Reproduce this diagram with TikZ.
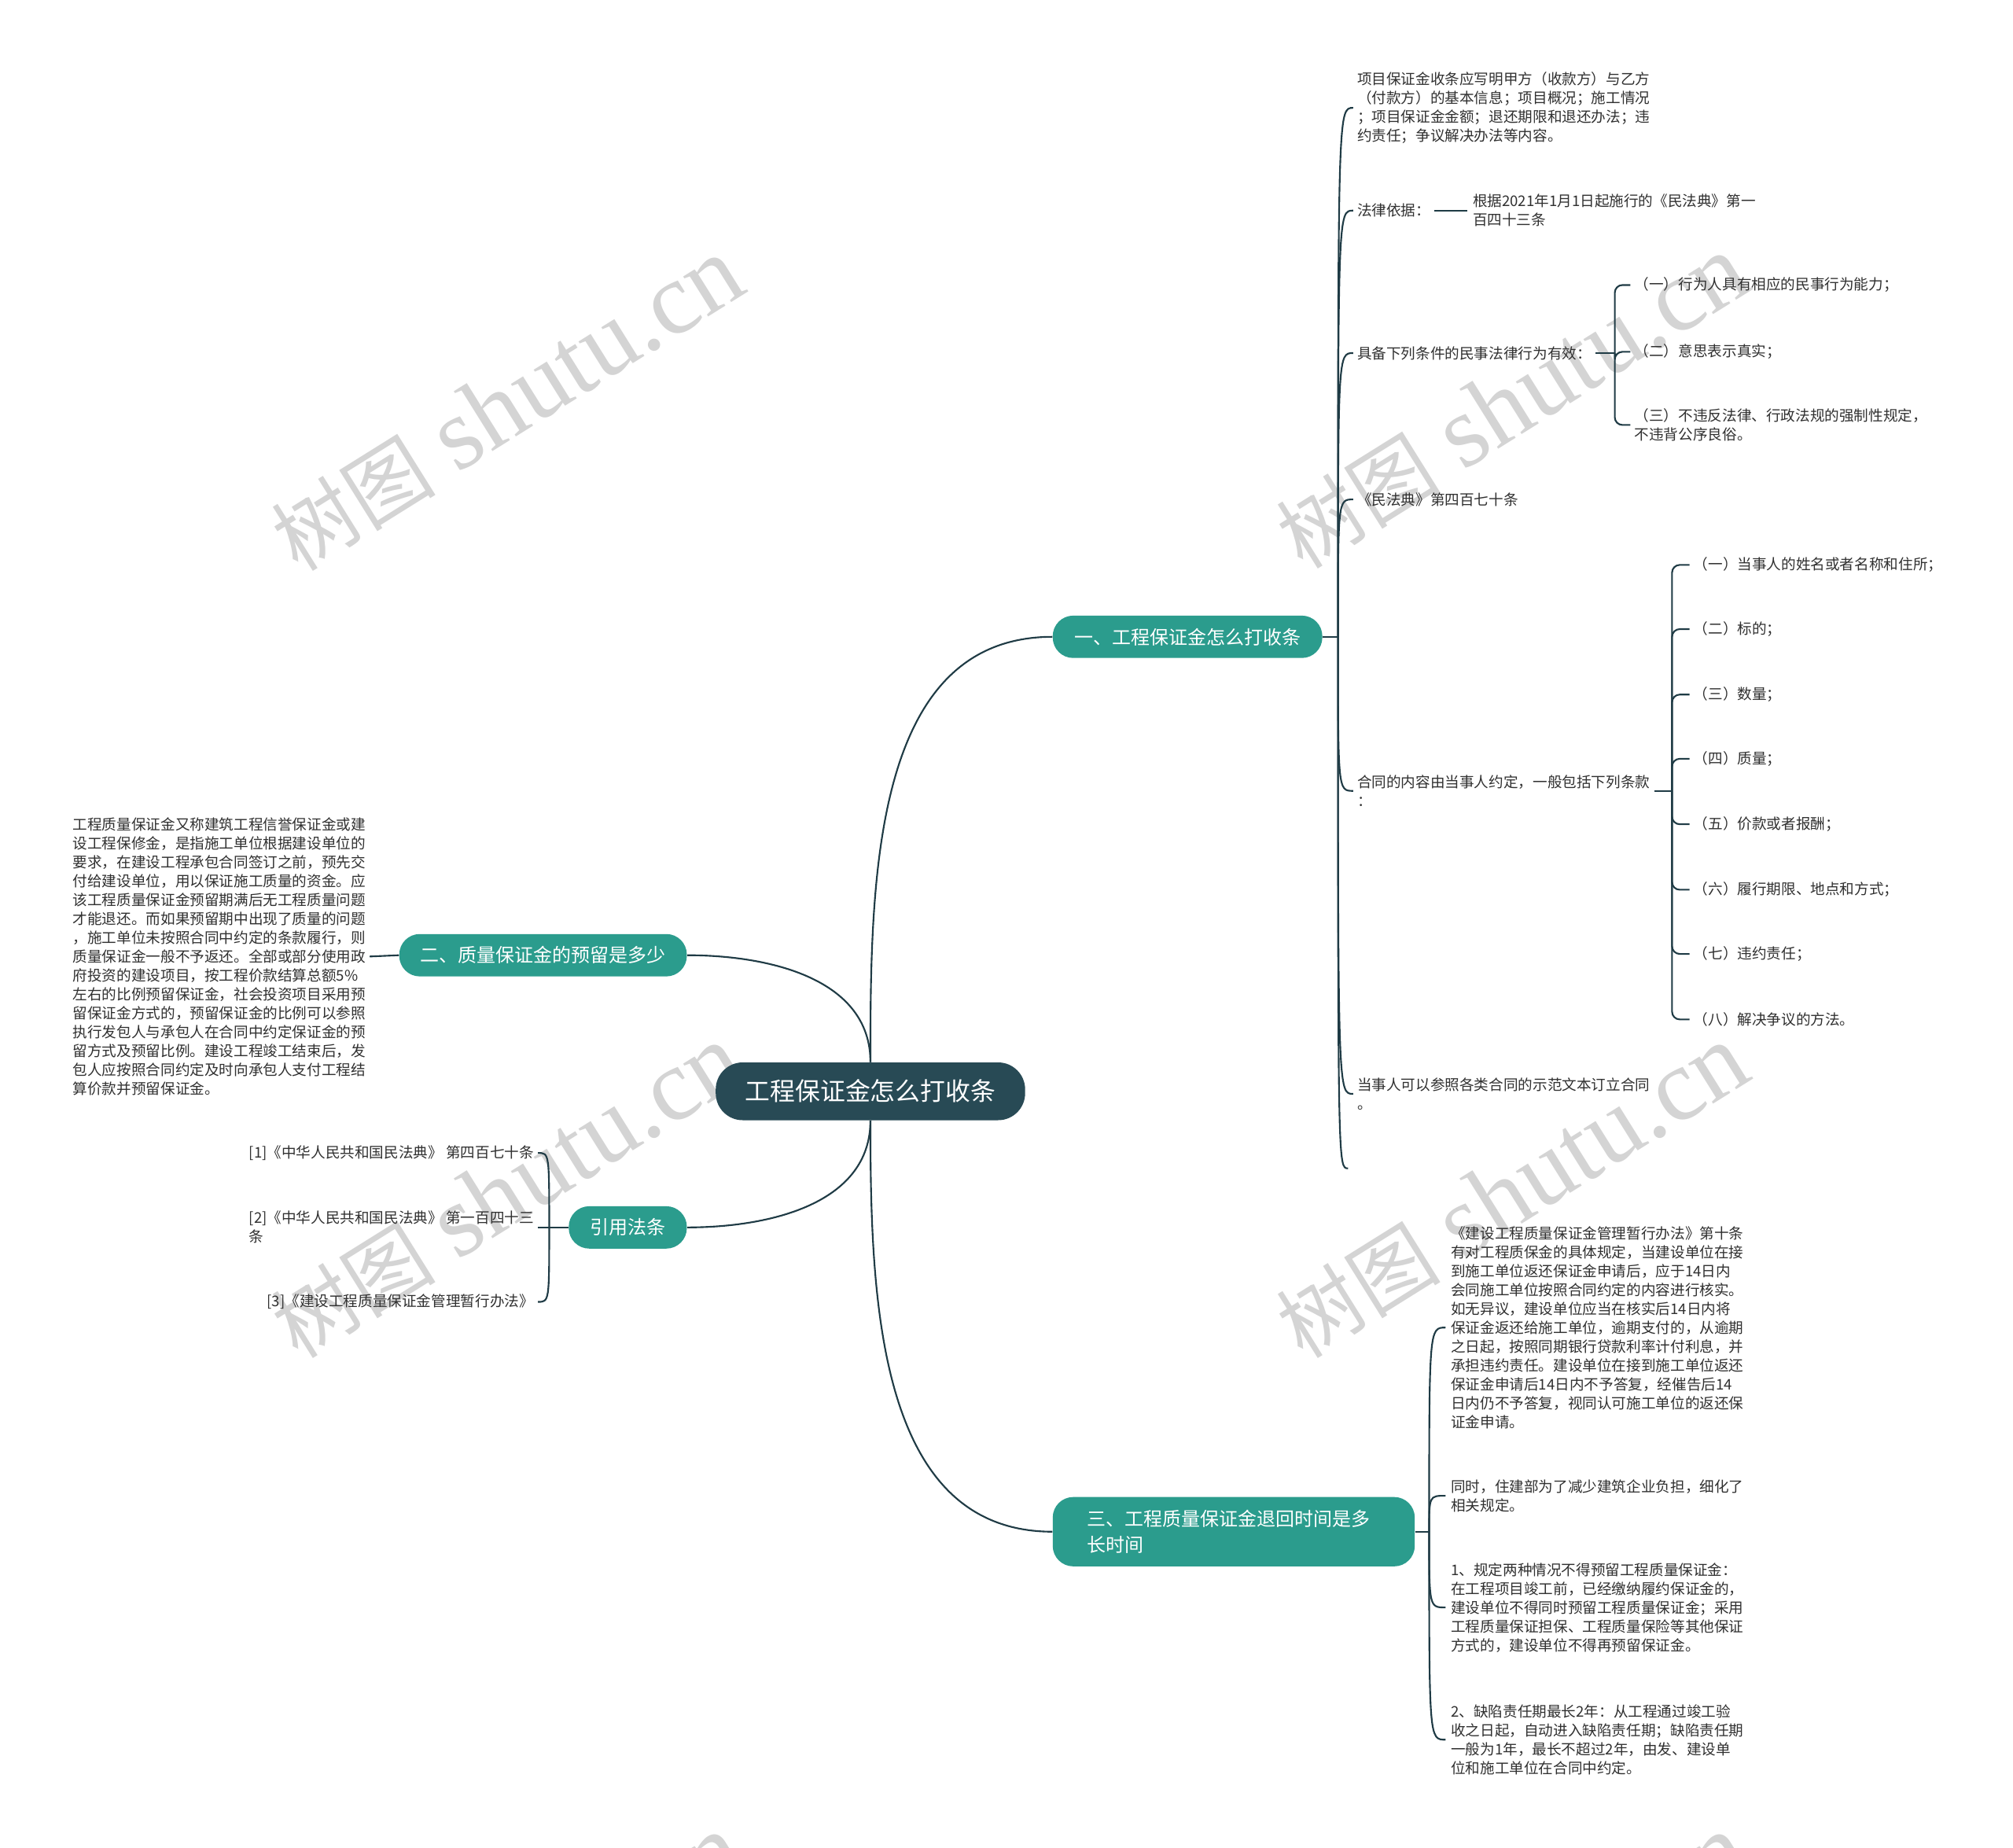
\documentclass[tikz,border=0pt]{standalone}
\usepackage{fontspec}
\setmainfont{Noto Sans CJK SC}
\newfontfamily\wmfont{Liberation Serif}
\usepackage{tikz}
\definecolor{rootfill}{HTML}{284A55}
\definecolor{topicfill}{HTML}{2B9C8D}
\definecolor{linecol}{HTML}{1F3B45}
\definecolor{textcol}{HTML}{303030}
\definecolor{wmgray}{HTML}{D4D4D4}
\newcommand{\wmtext}{\fontsize{64}{64}\selectfont 树图\hspace{18pt}{\wmfont\fontsize{80}{80}\selectfont shutu.cn}}

\begin{document}
\begin{tikzpicture}[x=1pt,y=-1pt,
  rootbox/.style={fill=rootfill,text=white,rounded corners=21pt,minimum width=241pt,minimum height=45pt,inner sep=0pt,font=\fontsize{19.5}{24}\selectfont},
  topicbox/.style={fill=topicfill,text=white,rounded corners=16pt,minimum height=33pt,inner sep=0pt,font=\fontsize{14.7}{20}\selectfont},
  leafbox/.style={text=textcol,align=left,inner xsep=3pt,inner ysep=1pt,font=\fontsize{11.4}{14.7}\selectfont},
  linkline/.style={draw=linecol,line width=1.3pt},
  hookline/.style={linkline,to path={.. controls (\tikztostart |- \tikztotarget) and (\tikztostart |- \tikztotarget) .. (\tikztotarget)}},
  wmark/.style={text=wmgray,rotate=32,inner sep=0pt}]
  \useasboundingbox (0,0) rectangle (1568,1439);
  \fill[white] (0,0) rectangle (1568,1439);
  \clip (0,0) rectangle (1568,1439);

  % Watermarks
  \node[wmark] (wm1) at (395,315) {\wmtext};
  \node[wmark] (wm2) at (1178,313) {\wmtext};
  \node[wmark] (wm3) at (395,928) {\wmtext};
  \node[wmark] (wm4) at (1178,928) {\wmtext};
  \node[wmark] (wm5) at (395,1543) {\wmtext};
  \node[wmark] (wm6) at (1178,1543) {\wmtext};

  % Root and branches
  \node[rootbox] (root) at (678,850) {工程保证金怎么打收条};
  \node[topicbox,minimum width=210pt] (b1) at (925,496) {一、工程保证金怎么打收条};
  \node[topicbox,minimum width=224pt] (b2) at (423,744) {二、质量保证金的预留是多少};
  \node[topicbox,minimum width=92pt] (b3) at (489,956) {引用法条};
  \node[topicbox,align=left,text width=228pt,inner xsep=27pt,minimum height=54pt] (b4) at (961,1193) {三、工程质量保证金退回时间是多\\长时间};

  % Branch 1 leaves
  \node[leafbox,anchor=west] (p1) at (1054,84) {项目保证金收条应写明甲方（收款方）与乙方\\（付款方）的基本信息；项目概况；施工情况\\；项目保证金金额；退还期限和退还办法；违\\约责任；争议解决办法等内容。};
  \node[leafbox,anchor=west] (p2) at (1054,164) {法律依据：};
  \node[leafbox,anchor=west,inner xsep=4pt] (p2a) at (1143,164) {根据2021年1月1日起施行的《民法典》第一\\百四十三条};
  \node[leafbox,anchor=west] (p3) at (1054,275) {具备下列条件的民事法律行为有效：};
  \node[leafbox,anchor=west] (q1) at (1270,222) {（一）行为人具有相应的民事行为能力；};
  \node[leafbox,anchor=west] (q2) at (1270,274) {（二）意思表示真实；};
  \node[leafbox,anchor=west] (q3) at (1270,331) {（三）不违反法律、行政法规的强制性规定，\\不违背公序良俗。};
  \node[leafbox,anchor=west] (p4) at (1054,389) {《民法典》第四百七十条};
  \node[leafbox,anchor=west] (p5) at (1054,616) {合同的内容由当事人约定，一般包括下列条款\\：};
  \node[leafbox,anchor=west] (r1) at (1316,440) {（一）当事人的姓名或者名称和住所；};
  \node[leafbox,anchor=west] (r2) at (1316,490) {（二）标的；};
  \node[leafbox,anchor=west] (r3) at (1316,541) {（三）数量；};
  \node[leafbox,anchor=west] (r4) at (1316,591) {（四）质量；};
  \node[leafbox,anchor=west] (r5) at (1316,642) {（五）价款或者报酬；};
  \node[leafbox,anchor=west] (r6) at (1316,693) {（六）履行期限、地点和方式；};
  \node[leafbox,anchor=west] (r7) at (1316,743) {（七）违约责任；};
  \node[leafbox,anchor=west] (r8) at (1316,794) {（八）解决争议的方法。};
  \node[leafbox,anchor=west] (p6) at (1054,852) {当事人可以参照各类合同的示范文本订立合同\\。};
  \coordinate (p7) at (1050,910);

  % Branch 2 leaf
  \node[leafbox,anchor=east] (s1) at (288,745) {工程质量保证金又称建筑工程信誉保证金或建\\设工程保修金，是指施工单位根据建设单位的\\要求，在建设工程承包合同签订之前，预先交\\付给建设单位，用以保证施工质量的资金。应\\该工程质量保证金预留期满后无工程质量问题\\才能退还。而如果预留期中出现了质量的问题\\，施工单位未按照合同中约定的条款履行，则\\质量保证金一般不予返还。全部或部分使用政\\府投资的建设项目，按工程价款结算总额5\%\\左右的比例预留保证金，社会投资项目采用预\\留保证金方式的，预留保证金的比例可以参照\\执行发包人与承包人在合同中约定保证金的预\\留方式及预留比例。建设工程竣工结束后，发\\包人应按照合同约定及时向承包人支付工程结\\算价款并预留保证金。};

  % Branch 3 leaves
  \node[leafbox,anchor=east] (t1) at (419,898) {[1]《中华人民共和国民法典》 第四百七十条};
  \node[leafbox,anchor=east] (t2) at (419,956) {[2]《中华人民共和国民法典》 第一百四十三\\条};
  \node[leafbox,anchor=east] (t3) at (419,1014) {[3]《建设工程质量保证金管理暂行办法》};

  % Branch 4 leaves
  \node[leafbox,anchor=west,inner xsep=4pt] (u1) at (1126,1034) {《建设工程质量保证金管理暂行办法》第十条\\有对工程质保金的具体规定，当建设单位在接\\到施工单位返还保证金申请后，应于14日内\\会同施工单位按照合同约定的内容进行核实。\\如无异议，建设单位应当在核实后14日内将\\保证金返还给施工单位，逾期支付的，从逾期\\之日起，按照同期银行贷款利率计付利息，并\\承担违约责任。建设单位在接到施工单位返还\\保证金申请后14日内不予答复，经催告后14\\日内仍不予答复，视同认可施工单位的返还保\\证金申请。};
  \node[leafbox,anchor=west,inner xsep=4pt] (u2) at (1126,1165) {同时，住建部为了减少建筑企业负担，细化了\\相关规定。};
  \node[leafbox,anchor=west,inner xsep=4pt] (u3) at (1126,1252) {1、规定两种情况不得预留工程质量保证金：\\在工程项目竣工前，已经缴纳履约保证金的，\\建设单位不得同时预留工程质量保证金；采用\\工程质量保证担保、工程质量保险等其他保证\\方式的，建设单位不得再预留保证金。};
  \node[leafbox,anchor=west,inner xsep=4pt] (u4) at (1126,1355) {2、缺陷责任期最长2年：从工程通过竣工验\\收之日起，自动进入缺陷责任期；缺陷责任期\\一般为1年，最长不超过2年，由发、建设单\\位和施工单位在合同中约定。};

  % Root to branches
  \draw[linkline] (root.north) to[out=90,in=180] (b1.west);
  \draw[linkline] (root.north) to[out=90,in=0] (b2.east);
  \draw[linkline] (root.south) to[out=-90,in=0] (b3.east);
  \draw[linkline] (root.south) to[out=-90,in=180] (b4.west);

  % Branch 1 connectors
  \draw[linkline] (b1.east) -- ++(12,0) coordinate (j1);
  \foreach \n in {p1,p2,p3,p4,p5,p6}
    \draw[hookline] (j1) to (\n.west);
  \draw[hookline] (j1) to (p7);
  \draw[linkline] (p2.east) -- (p2a.west);
  \draw[linkline] (p3.east) -- ++(15,0) coordinate (j3);
  \foreach \n in {q1,q2,q3}
    \draw[linkline,rounded corners=6pt] (j3) |- (\n.west);
  \draw[linkline] (p5.east) -- ++(14,0) coordinate (j5);
  \foreach \n in {r1,r2,r3,r4,r5,r6,r7,r8}
    \draw[linkline,rounded corners=6pt] (j5) |- (\n.west);

  % Branch 2 connector
  \draw[linkline] (s1.east) -- (b2.west);

  % Branch 3 connectors
  \draw[linkline] (b3.west) -- ++(-15,0) coordinate (j7);
  \foreach \n in {t1,t2,t3}
    \draw[hookline] (j7) to (\n.east);

  % Branch 4 connectors
  \draw[linkline] (b4.east) -- ++(11,0) coordinate (j4);
  \foreach \n in {u1,u2,u3,u4}
    \draw[hookline] (j4) to (\n.west);
\end{tikzpicture}
\end{document}
